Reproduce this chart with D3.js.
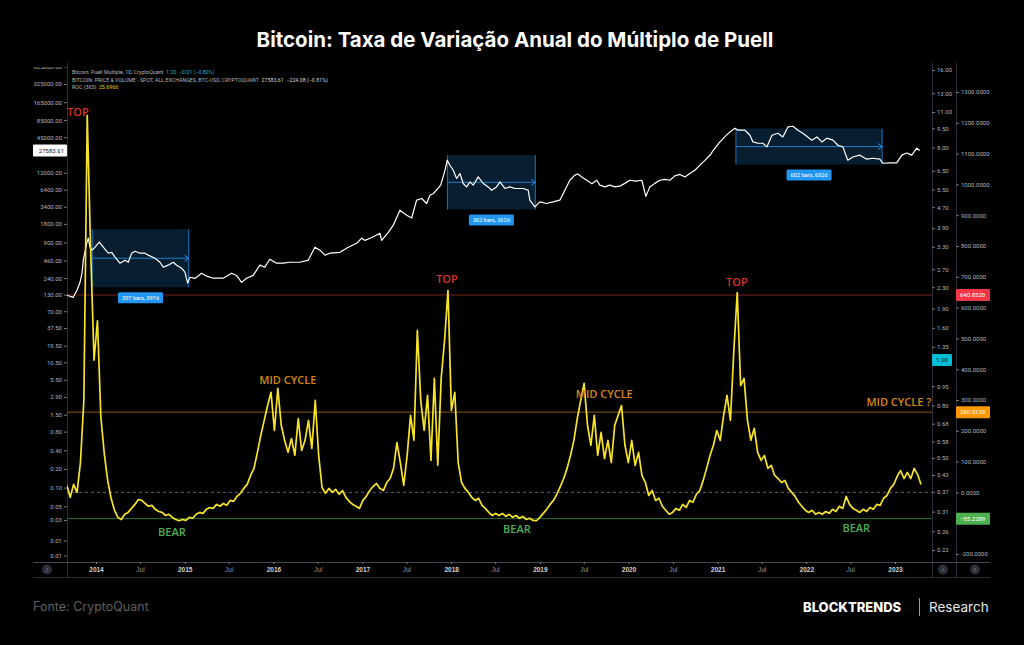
<!DOCTYPE html>
<html>
<head>
<meta charset="utf-8">
<script src="https://cdn.jsdelivr.net/npm/d3@7"></script>
<style>
  html, body { margin: 0; background: #000; }
  svg { display: block; font-family: Roboto, "Noto Sans", sans-serif; }
</style>
</head>
<body>
<div id="chart"></div>
<script>
// ---- data ----
// ROC(365) of the Puell Multiple, one value every 14 days from 2013-09-03
const rocStart = [2013, 8, 3];
const rocStepDays = 14;
const rocValues = [
  23, -16, 26, 0, 97, 299, 1224, 786, 429, 558,
  244, 127, 39, -19, -58, -81, -88, -71, -65, -52,
  -39, -23, -26, -36, -45, -42, -55, -62, -65, -75,
  -71, -81, -88, -92, -88, -91, -81, -84, -71, -65,
  -68, -55, -49, -52, -39, -45, -36, -42, -26, -29,
  -13, -3, 13, 26, 55, 78, 130, 185, 234, 282,
  325, 201, 338, 218, 169, 130, 175, 120, 240, 136,
  169, 234, 143, 299, 120, 16, -3, 13, 0, 10,
  -6, 6, -16, -29, -39, -45, -52, -26, -13, 6,
  19, 29, 13, 6, 32, 45, 78, 162, 97, 23,
  120, 250, 169, 526, 299, 201, 315, 104, 370, 88,
  370, 494, 656, 266, 325, 97, 32, 13, 0, -16,
  -26, -19, -42, -52, -65, -75, -68, -75, -68, -78,
  -71, -81, -75, -84, -78, -88, -84, -91, -92, -81,
  -68, -55, -39, -26, -6, 19, 45, 78, 120, 169,
  240, 299, 354, 218, 153, 250, 120, 195, 110, 169,
  97, 218, 250, 282, 153, 97, 169, 88, 130, 55,
  32, -10, 6, -26, -19, -45, -58, -71, -65, -52,
  -58, -39, -49, -26, -32, -6, 6, 39, 78, 120,
  153, 201, 169, 250, 315, 234, 461, 649, 347, 370,
  234, 169, 208, 130, 104, 120, 78, 88, 55, 45,
  32, 39, 13, 0, -13, -32, -45, -58, -65, -58,
  -71, -65, -71, -62, -68, -55, -62, -45, -52, -13,
  -39, -52, -58, -65, -55, -62, -49, -55, -39, -42,
  -19, -10, 13, 26, 52, 71, 45, 65, 45, 78,
  58, 25.6966
];

// BTC price (decimal year, USD)
const priceYear = [
  2013.673, 2013.741, 2013.786, 2013.820, 2013.842, 2013.857, 2013.895, 2013.913, 2013.932, 2013.958,
  2013.989, 2014.037, 2014.082, 2014.139, 2014.177, 2014.214, 2014.270, 2014.327, 2014.364, 2014.402,
  2014.439, 2014.495, 2014.552, 2014.589, 2014.664, 2014.721, 2014.758, 2014.814, 2014.870, 2014.909,
  2014.965, 2015.002, 2015.033, 2015.059, 2015.115, 2015.190, 2015.247, 2015.321, 2015.434, 2015.528,
  2015.584, 2015.641, 2015.697, 2015.771, 2015.847, 2015.903, 2015.959, 2016.035, 2016.109, 2016.185,
  2016.297, 2016.391, 2016.466, 2016.523, 2016.579, 2016.635, 2016.748, 2016.841, 2016.936, 2016.992,
  2017.029, 2017.105, 2017.198, 2017.217, 2017.292, 2017.348, 2017.423, 2017.499, 2017.555, 2017.611,
  2017.668, 2017.724, 2017.761, 2017.800, 2017.855, 2017.882, 2017.930, 2017.956, 2017.986, 2018.024,
  2018.062, 2018.099, 2018.136, 2018.174, 2018.212, 2018.249, 2018.305, 2018.362, 2018.418, 2018.456,
  2018.512, 2018.550, 2018.606, 2018.662, 2018.719, 2018.812, 2018.869, 2018.887, 2018.944, 2019.000,
  2019.075, 2019.150, 2019.225, 2019.282, 2019.338, 2019.394, 2019.428, 2019.473, 2019.529, 2019.586,
  2019.642, 2019.676, 2019.732, 2019.788, 2019.845, 2019.901, 2019.957, 2020.014, 2020.080, 2020.149,
  2020.194, 2020.239, 2020.295, 2020.351, 2020.408, 2020.464, 2020.520, 2020.577, 2020.633, 2020.689,
  2020.745, 2020.802, 2020.858, 2020.914, 2020.948, 2020.993, 2021.027, 2021.083, 2021.140, 2021.196,
  2021.230, 2021.309, 2021.365, 2021.399, 2021.455, 2021.511, 2021.556, 2021.613, 2021.680, 2021.736,
  2021.793, 2021.849, 2021.905, 2021.962, 2022.063, 2022.120, 2022.176, 2022.232, 2022.300, 2022.356,
  2022.412, 2022.468, 2022.525, 2022.604, 2022.682, 2022.750, 2022.829, 2022.863, 2022.941, 2023.020,
  2023.077, 2023.133, 2023.189, 2023.245, 2023.279
];
const priceClose = [
  127, 117, 153, 205, 288, 467, 877, 1057, 757, 677,
  757, 910, 757, 605, 625, 522, 418, 467, 432, 605,
  651, 605, 605, 563, 503, 432, 360, 388, 432, 388,
  347, 299, 199, 248, 237, 288, 258, 239, 239, 288,
  265, 205, 239, 265, 388, 360, 484, 418, 418, 432,
  432, 467, 757, 677, 563, 605, 625, 757, 877, 1057,
  974, 1086, 1267, 974, 1316, 1714, 2993, 2483, 2237, 4340,
  4620, 3840, 5220, 5560, 6770, 7570, 13000, 19150, 15900, 13200,
  9710, 11700, 8060, 7110, 8560, 7570, 10300, 8060, 7110, 6280,
  7110, 8560, 6700, 7110, 6700, 6700, 6280, 4340, 3380, 4070,
  3840, 4070, 4340, 6280, 9110, 11000, 11500, 10300, 9100, 8000,
  9100, 7600, 7100, 7600, 7100, 7300, 8100, 9100, 8800, 9100,
  5000, 7100, 8100, 9100, 9400, 9100, 10700, 11300, 10300, 11700,
  13200, 16000, 19000, 23000, 27000, 33000, 37800, 46000, 54800, 62900,
  58400, 58400, 48500, 37800, 36000, 36000, 31400, 48500, 52200, 45500,
  66000, 67700, 58400, 52200, 40300, 45500, 37800, 43400, 40300, 33400,
  31400, 19150, 21600, 23100, 19900, 20600, 19900, 17100, 17300, 17300,
  23100, 25100, 23100, 29900, 27583.61
];
const lastPrice = 27583.61;
const lastPuell = 1.20;

// date ranges measured on the chart
const rangeStart = [2013.958, 2017.958, 2021.207];
const rangeEnd = [2015.045, 2018.949, 2022.855];
const rangeTop = [1476, 23100, 62000];
const rangeBottom = [171, 3070, 16300];
const rangeLabels = ['397 bars, 397d', '362 bars, 362d', '602 bars, 602d'];

// horizontal ROC levels
const levelValues = [640.8520, 260.5129, -85.2289];

// annotations: text, decimal year, ROC value
const noteText = ['TOP', 'TOP', 'TOP', 'MID CYCLE', 'MID CYCLE', 'MID CYCLE ?', 'BEAR', 'BEAR', 'BEAR'];
const noteYear = [2013.797, 2017.953, 2021.218, 2016.162, 2019.726, 2023.043, 2014.856, 2018.741, 2022.564];
const noteRoc = [1234, 692, 682, 364, 318, 295, -127, -119, -117];
const noteKind = ['top', 'top', 'top', 'mid', 'mid', 'mid', 'bear', 'bear', 'bear'];

// axis ticks
const priceTicks = [625000, 325000, 165000, 85000, 45000, 12000, 6400, 3400, 1800, 900, 460, 240, 130,
  70, 37.5, 19.5, 10.5, 5.5, 2.9, 1.5, 0.8, 0.4, 0.2, 0.1, 0.05, 0.03, 0.014, 0.008];
const puellTicks = [16, 13, 11, 9.5, 8, 6.5, 5.5, 4.7, 3.9, 3.3, 2.7, 2.3, 1.9, 1.6, 1.35,
  0.95, 0.8, 0.68, 0.58, 0.5, 0.43, 0.37, 0.31, 0.26, 0.22];
const rocTicks = [1300, 1200, 1100, 1000, 900, 800, 700, 600, 500, 400, 300, 200, 100, 0, -200];
const yearTicks = [2014, 2015, 2016, 2017, 2018, 2019, 2020, 2021, 2022, 2023];
const julTicks = [2014, 2015, 2016, 2017, 2018, 2019, 2020, 2021, 2022];

// ---- drawing ----
const W = 1024, H = 645;
const plot = {l: 67, r: 932, t: 63, b: 562};
const axisB = 956;

function yearToDate(y) {
  const yr = Math.floor(y);
  const a = Date.UTC(yr, 0, 1), b = Date.UTC(yr + 1, 0, 1);
  return new Date(a + (y - yr) * (b - a));
}

const x = d3.scaleUtc()
  .domain([new Date(Date.UTC(2014, 0, 1)), new Date(Date.UTC(2023, 0, 1))])
  .range([96, 895]);
const yPrice = d3.scaleLog().domain([0.03, 325000]).range([520, 84]);
const yPuell = d3.scaleLog().domain([0.22, 16]).range([550, 70]);
const yRoc = d3.scaleLinear().domain([-200, 1300]).range([554, 92]);

const svg = d3.select('#chart').append('svg')
  .attr('width', W).attr('height', H)
  .style('background', '#000');

const defs = svg.append('defs');
defs.append('clipPath').attr('id', 'plotclip')
  .append('rect')
  .attr('x', plot.l).attr('y', plot.t)
  .attr('width', plot.r - plot.l).attr('height', plot.b - plot.t);
// the left axis group is translated by plot.l, so this rect is in its own coordinates
defs.append('clipPath').attr('id', 'leftclip')
  .append('rect').attr('x', -plot.l).attr('y', 67).attr('width', plot.l).attr('height', plot.b - 67);

// Title
svg.append('text')
  .attr('x', 515).attr('y', 47)
  .attr('text-anchor', 'middle')
  .style('font-family', 'Inter, "Open Sans", sans-serif')
  .style('font-weight', 700).style('font-size', '20.5px')
  .attr('fill', '#fff')
  .text('Bitcoin: Taxa de Variação Anual do Múltiplo de Puell');

// Frame lines
const frame = svg.append('g').attr('stroke', '#2a2e39').attr('stroke-width', 1);
[plot.l, plot.r, axisB].forEach(v => {
  frame.append('line').attr('x1', v + 0.5).attr('x2', v + 0.5).attr('y1', plot.t).attr('y2', 577);
});
frame.append('line').attr('x1', 33).attr('x2', 990).attr('y1', plot.b + 0.5).attr('y2', plot.b + 0.5)
  .attr('stroke', '#434651');
frame.append('line').attr('x1', 33).attr('x2', 990).attr('y1', 577.5).attr('y2', 577.5);

const body = svg.append('g').attr('clip-path', 'url(#plotclip)');

// date range boxes
const boxes = body.append('g');
rangeStart.forEach((s, i) => {
  const x0 = x(yearToDate(s)), x1 = x(yearToDate(rangeEnd[i]));
  const y0 = yPrice(rangeTop[i]), y1 = yPrice(rangeBottom[i]);
  const ym = (y0 + y1) / 2;
  boxes.append('rect')
    .attr('x', x0).attr('y', y0).attr('width', x1 - x0).attr('height', y1 - y0)
    .attr('fill', '#2196f3').attr('fill-opacity', 0.2);
  [x0, x1].forEach(v => boxes.append('line')
    .attr('x1', v).attr('x2', v).attr('y1', y0).attr('y2', y1)
    .attr('stroke', '#2196f3').attr('stroke-opacity', 0.75));
  boxes.append('line')
    .attr('x1', x0).attr('x2', x1).attr('y1', ym).attr('y2', ym)
    .attr('stroke', '#2196f3').attr('stroke-opacity', 0.8);
  boxes.append('path')
    .attr('d', `M${x1 - 4},${ym - 3}L${x1},${ym}L${x1 - 4},${ym + 3}`)
    .attr('fill', 'none').attr('stroke', '#2196f3');
  const cx = (x0 + x1) / 2;
  svg.append('rect')
    .attr('x', cx - 22.5).attr('y', y1 + 5).attr('width', 45).attr('height', 11).attr('rx', 1.5)
    .attr('fill', '#2196f3');
  svg.append('text')
    .attr('x', cx).attr('y', y1 + 12.6)
    .attr('text-anchor', 'middle').attr('fill', '#fff')
    .style('font-size', '5.6px')
    .text(rangeLabels[i]);
});

// levels
const levelColors = ['#7a2220', '#8a5a12', '#2e6e32'];
levelValues.forEach((v, i) => {
  body.append('line')
    .attr('x1', plot.l).attr('x2', plot.r)
    .attr('y1', yRoc(v)).attr('y2', yRoc(v))
    .attr('stroke', levelColors[i]).attr('stroke-width', 1);
});
body.append('line')
  .attr('x1', plot.l).attr('x2', plot.r)
  .attr('y1', yRoc(0)).attr('y2', yRoc(0))
  .attr('stroke', '#5d606b').attr('stroke-dasharray', '3,3');

// price
const priceData = priceYear.map((t, i) => ({d: yearToDate(t), v: priceClose[i]}));
body.append('path')
  .datum(priceData)
  .attr('fill', 'none').attr('stroke', '#fff').attr('stroke-width', 1.2)
  .attr('stroke-linejoin', 'round')
  .attr('d', d3.line().x(d => x(d.d)).y(d => yPrice(d.v)));

// ROC
const t0 = new Date(Date.UTC(...rocStart));
const rocData = rocValues.map((v, i) => ({d: d3.utcDay.offset(t0, rocStepDays * i), v}));
body.append('path')
  .datum(rocData)
  .attr('fill', 'none').attr('stroke', '#f7e32a').attr('stroke-width', 1.7)
  .attr('stroke-linejoin', 'round')
  .attr('d', d3.line().x(d => x(d.d)).y(d => yRoc(d.v)));

// annotations
const noteColor = {top: '#dc3228', mid: '#d98612', bear: '#4caf50'};
noteText.forEach((t, i) => {
  svg.append('text')
    .attr('x', x(yearToDate(noteYear[i]))).attr('y', yRoc(noteRoc[i]) + 4)
    .attr('text-anchor', 'middle')
    .attr('fill', noteColor[noteKind[i]])
    .style('font-family', '"Open Sans", sans-serif')
    .style('font-weight', 600).style('font-size', '11px')
    .text(t);
});

// axes
function styleAxis(g, color) {
  g.select('.domain').remove();
  g.selectAll('.tick line').attr('stroke', '#787b86');
  g.selectAll('.tick text').attr('fill', color).style('font-size', '6px')
    .style('font-family', 'Roboto, sans-serif');
}

svg.append('g')
  .attr('transform', `translate(${plot.l},0)`)
  .attr('clip-path', 'url(#leftclip)')
  .call(d3.axisLeft(yPrice).tickValues(priceTicks).tickFormat(d => d.toFixed(2)).tickSize(3).tickPadding(2))
  .call(g => styleAxis(g, '#b2b5be'));

svg.append('g')
  .attr('transform', `translate(${plot.r},0)`)
  .call(d3.axisRight(yPuell).tickValues(puellTicks).tickFormat(d => d.toFixed(2)).tickSize(3).tickPadding(2))
  .call(g => styleAxis(g, '#b2b5be'));

svg.append('g')
  .attr('transform', `translate(${axisB},0)`)
  .call(d3.axisRight(yRoc).tickValues(rocTicks).tickFormat(d => d.toFixed(4)).tickSize(3).tickPadding(2))
  .call(g => styleAxis(g, '#b2b5be'));

const xTicks = yearTicks.map(y => new Date(Date.UTC(y, 0, 1)))
  .concat(julTicks.map(y => new Date(Date.UTC(y, 6, 1))));
svg.append('g')
  .attr('transform', `translate(0,${plot.b})`)
  .call(d3.axisBottom(x).tickValues(xTicks)
    .tickFormat(d => d.getUTCMonth() === 0 ? d3.utcFormat('%Y')(d) : 'Jul')
    .tickSize(2).tickPadding(3))
  .call(g => {
    g.select('.domain').remove();
    g.selectAll('.tick line').attr('stroke', '#787b86');
    g.selectAll('.tick text')
      .style('font-size', '6.5px')
      .style('font-weight', d => d.getUTCMonth() === 0 ? 700 : 400)
      .attr('fill', d => d.getUTCMonth() === 0 ? '#d1d4dc' : '#9598a1');
  });

// badges
function badge(xl, w, yc, fill, txt, color, anchor) {
  svg.append('rect').attr('x', xl).attr('y', yc - 6).attr('width', w).attr('height', 12)
    .attr('fill', fill).attr('rx', 1);
  svg.append('text')
    .attr('x', anchor === 'end' ? xl + w - 3 : xl + 4).attr('y', yc + 2.2)
    .attr('text-anchor', anchor || 'start')
    .attr('fill', color).style('font-size', '6px')
    .text(txt);
}
badge(33, 34, yPrice(lastPrice), '#fff', lastPrice.toFixed(2), '#131722', 'end');
badge(plot.r, 20, yPuell(lastPuell), '#00bcd4', lastPuell.toFixed(2), '#131722');
const badgeColors = ['#f23645', '#ff9800', '#4caf50'];
levelValues.forEach((v, i) => {
  badge(axisB, 34, yRoc(v), badgeColors[i], d3.format('.4f')(v).replace('-', '\u2212'), '#fff');
});

// pane buttons
[[47, 'Z'], [943, 'A'], [975, 'B']].forEach(([cx, t]) => {
  svg.append('circle').attr('cx', cx).attr('cy', 569.5).attr('r', 5).attr('fill', '#2a2e39');
  svg.append('text').attr('x', cx).attr('y', 571.5).attr('text-anchor', 'middle')
    .attr('fill', '#6a6d78').style('font-size', '5.5px').text(t);
});

// legend
const lg = svg.append('g').style('font-size', '5.3px').attr('fill', '#b2b5be');
const l1 = lg.append('text').attr('x', 72).attr('y', 74);
l1.append('tspan').text('Bitcoin: Puell Multiple, 1D, CryptoQuant');
l1.append('tspan').attr('fill', '#22b3c8').text('\u00a0 1.20 \u00a0\u22120.01 (\u22120.80%)');
const l2 = lg.append('text').attr('x', 72).attr('y', 81.5);
l2.append('tspan').text('BITCOIN: PRICE & VOLUME - SPOT, ALL EXCHANGES, BTC-USD, CRYPTOQUANT');
l2.append('tspan').attr('fill', '#d1d4dc').text('\u00a0 27583.61 \u00a0\u2212224.08 (\u22120.81%)');
const l3 = lg.append('text').attr('x', 72).attr('y', 89);
l3.append('tspan').text('ROC (365)');
l3.append('tspan').attr('fill', '#e8d000').text('\u00a0 25.6966');

// footer
svg.append('text')
  .attr('x', 33).attr('y', 611)
  .style('font-family', 'Inter, sans-serif').style('font-size', '12.5px')
  .attr('fill', '#5f5f5f')
  .text('Fonte: CryptoQuant');
svg.append('text')
  .attr('x', 803).attr('y', 612)
  .style('font-family', 'Inter, sans-serif').style('font-size', '13px').style('font-weight', 800)
  .attr('fill', '#fff')
  .text('BLOCKTRENDS');
svg.append('line')
  .attr('x1', 919.5).attr('x2', 919.5).attr('y1', 598).attr('y2', 616)
  .attr('stroke', '#9a9a9a');
svg.append('text')
  .attr('x', 929).attr('y', 612)
  .style('font-family', 'Inter, sans-serif').style('font-size', '13.5px')
  .attr('fill', '#e6e6e6')
  .text('Research');
</script>
</body>
</html>
